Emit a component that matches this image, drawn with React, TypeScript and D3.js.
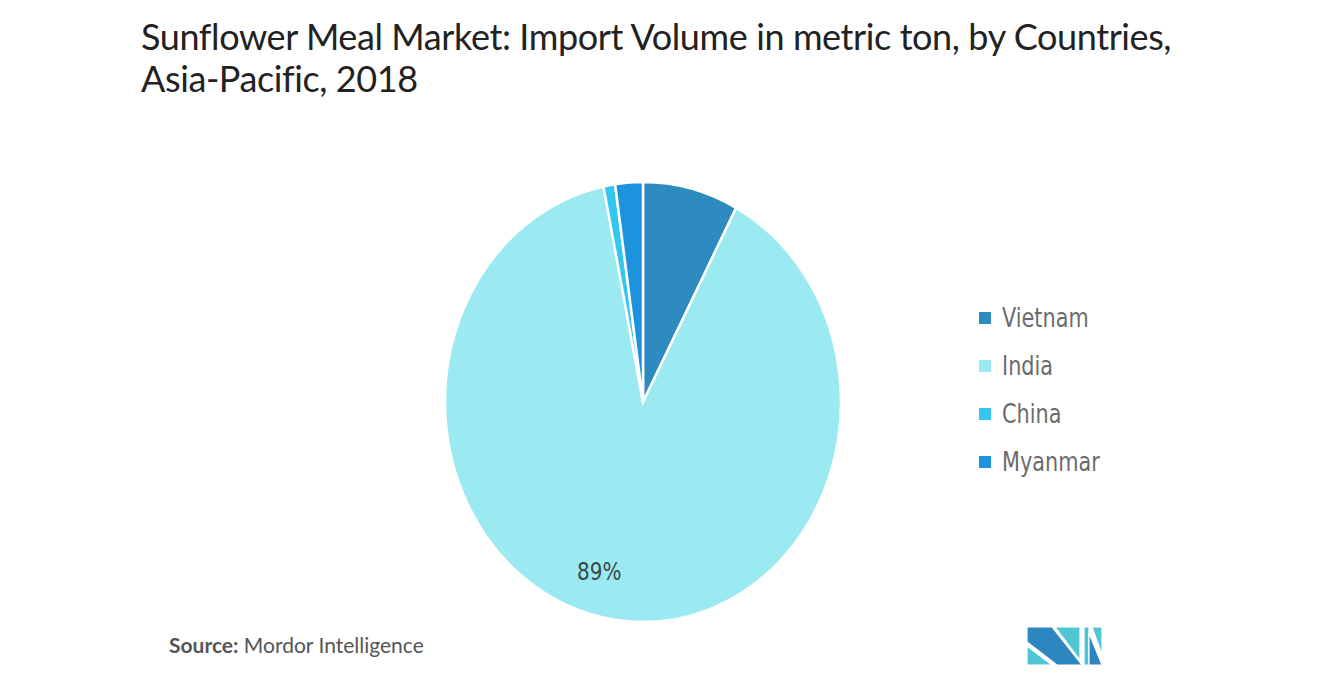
import React from "react";
import * as d3 from "d3";

const countries = ["Vietnam", "India", "China", "Myanmar"];
const shares = [7.8, 89.0, 0.95, 2.25];
const colors = ["#2e8bc0", "#9ceaf1", "#33c7f0", "#1d93dd"];
const titleLines = [
  "Sunflower Meal Market: Import Volume in metric ton, by Countries,",
  "Asia-Pacific, 2018",
];

export default function App() {
  const W = 1335, H = 681;
  const cx = 643, cy = 402, rx = 198, ry = 220;
  const data = countries.map((c, i) => ({ name: c, value: shares[i], color: colors[i] }));
  const pie = d3.pie<any>().value((d: any) => d.value).sort(null);
  const arcs = pie(data);
  const arc = d3.arc<any>().innerRadius(0).outerRadius(rx);
  const labelArc = d3.arc<any>().innerRadius(rx * 0.8).outerRadius(rx * 0.8);
  const condensed = "'DejaVu Sans', sans-serif";
  const legendY = d3.scalePoint<string>().domain(countries).range([318, 462]);
  return (
    <svg width={W} height={H} style={{ position: "absolute", left: 0, top: 0, background: "#fff" }}>
      {titleLines.map((t, i) => (
        <text key={i} x={141} y={50 + i * 42} fontFamily="Lato, 'Open Sans', sans-serif" fontSize={36} fill="#222" letterSpacing={-0.4}>
          {t}
        </text>
      ))}
      <g transform={`translate(${cx},${cy}) scale(1,${ry / rx})`}>
        {arcs.map((a, i) => (
          <path key={i} d={arc(a) as string} fill={a.data.color} stroke="#fff" strokeWidth={2.5} vectorEffect="non-scaling-stroke" />
        ))}
      </g>
      {arcs.filter((a) => a.data.value > 50).map((a, i) => {
        const [lx, ly] = labelArc.centroid(a);
        return (
          <text key={i} transform={`translate(${cx + lx - 21},${cy + ly * (ry / rx) + 4}) scale(0.8,1)`} textAnchor="middle" fontFamily={condensed} fontSize={25} fill="#3a474c">
            {Math.round(a.data.value)}%
          </text>
        );
      })}
      {countries.map((c, i) => (
        <g key={c} transform={`translate(0,${legendY(c)})`}>
          <rect x={979} y={-6} width={12} height={12} fill={colors[i]} />
          <text transform="translate(1002,9) scale(0.8,1)" fontFamily={condensed} fontSize={26} fill="#6b6b6b">{c}</text>
        </g>
      ))}
      <text x={169} y={653} fontFamily="Lato, 'Open Sans', sans-serif" fontSize={21} fill="#555">
        <tspan fontWeight="bold">Source:</tspan> Mordor Intelligence
      </text>
      <g stroke="#fff" strokeWidth={1.2}>
        <polygon points="1027,646 1027,665 1052,665" fill="#4fc6d3" />
        <polygon points="1027,627 1052,627 1082,665 1057,665 1027,642" fill="#2d86bf" />
        <polygon points="1055,627 1080,627 1080,660" fill="#4fc6d3" />
        <polygon points="1084,627 1089,627 1089,665 1084,665" fill="#4fc6d3" />
        <polygon points="1089,633 1102,665 1089,665" fill="#2d86bf" />
        <polygon points="1092,627 1102,627 1102,655" fill="#4fc6d3" />
      </g>
    </svg>
  );
}
